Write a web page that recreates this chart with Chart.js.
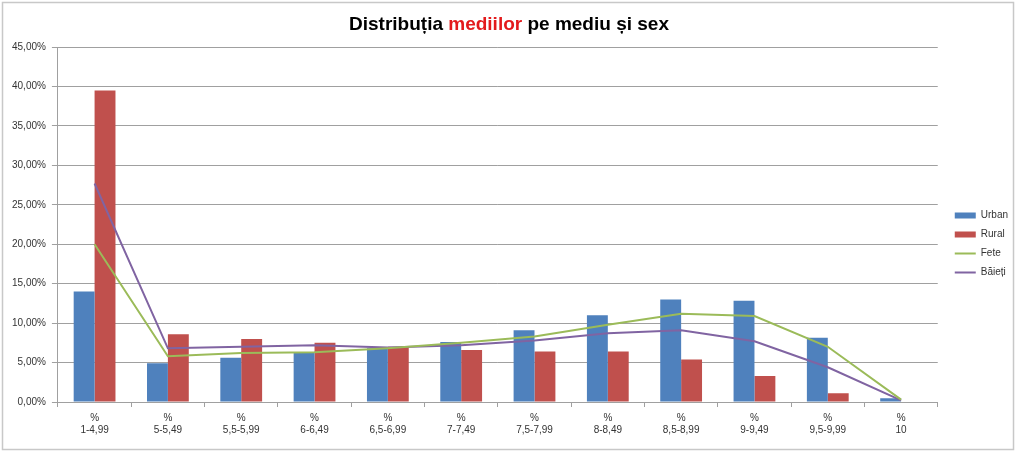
<!DOCTYPE html>
<html>
<head>
<meta charset="utf-8">
<script src="https://cdn.jsdelivr.net/npm/chart.js@4.4.0/dist/chart.umd.min.js"></script>
<style>
    body { margin: 0; background: #fff; }
    #wrap { position: relative; width: 1024px; height: 456px; }
</style>
</head>
<body>
<div id="wrap"><canvas id="chart" width="1024" height="456"></canvas></div>
<script>
const categories = [
    ['%', '1-4,99'], ['%', '5-5,49'], ['%', '5,5-5,99'], ['%', '6-6,49'],
    ['%', '6,5-6,99'], ['%', '7-7,49'], ['%', '7,5-7,99'], ['%', '8-8,49'],
    ['%', '8,5-8,99'], ['%', '9-9,49'], ['%', '9,5-9,99'], ['%', '10']
];
const urban  = [14.0, 4.9, 5.6, 6.3, 6.8, 7.6, 9.1, 11.0, 13.0, 12.85, 8.15, 0.47];
const rural  = [39.5, 8.6, 8.0, 7.5, 7.0, 6.6, 6.4, 6.4, 5.4, 3.3, 1.1, 0.0];
const fete   = [20.0, 5.8, 6.2, 6.3, 6.8, 7.5, 8.3, 9.8, 11.2, 10.9, 7.0, 0.3];
const baieti = [27.7, 6.8, 7.0, 7.2, 6.9, 7.2, 7.8, 8.7, 9.1, 7.7, 4.4, 0.2];
const yMax = 45;
const yStep = 5;

const gridColor = '#a0a0a0';
const tickFont = { family: 'Liberation Sans, Arial, sans-serif', size: 10 };

// titlul are un cuvant rosu, asa ca il desenam pe bucati
const titleParts = [
    { text: 'Distribuția ', color: '#000000' },
    { text: 'mediilor', color: '#e31a1c' },
    { text: ' pe mediu și sex', color: '#000000' }
];

const titlePlugin = {
    id: 'titleAndFrame',
    beforeDraw(chart) {
        const ctx = chart.ctx;
        ctx.save();
        ctx.strokeStyle = '#c8c8c8';
        ctx.lineWidth = 1.5;
        ctx.strokeRect(2.5, 2.5, 1011, 447);
        ctx.restore();
    },
    afterDraw(chart) {
        const ctx = chart.ctx;
        ctx.save();
        ctx.font = 'bold 19px Liberation Sans, Arial, sans-serif';
        ctx.textBaseline = 'alphabetic';
        const total = titleParts.reduce((w, p) => w + ctx.measureText(p.text).width, 0);
        let x = 509 - total / 2;
        titleParts.forEach(p => {
            ctx.fillStyle = p.color;
            ctx.fillText(p.text, x, 30);
            x += ctx.measureText(p.text).width;
        });
        ctx.restore();
    }
};

// mutam legenda putin spre dreapta, ca in original
const legendShift = {
    id: 'legendShift',
    afterLayout(chart) {
        chart.legend.left += 8;
        chart.legend.right += 8;
    }
};

const ctx = document.getElementById('chart').getContext('2d');
new Chart(ctx, {
    type: 'bar',
    data: {
        labels: categories,
        datasets: [
            { label: 'Urban', data: urban, backgroundColor: '#4f81bd', order: 2 },
            { label: 'Rural', data: rural, backgroundColor: '#c0504d', order: 2 },
            { type: 'line', label: 'Fete', data: fete, borderColor: '#9bbb59', backgroundColor: '#9bbb59',
              borderWidth: 2, pointRadius: 0, tension: 0, order: 1 },
            { type: 'line', label: 'Băieți', data: baieti, borderColor: '#8064a2', backgroundColor: '#8064a2',
              borderWidth: 2, pointRadius: 0, tension: 0, order: 1 }
        ]
    },
    options: {
        responsive: false,
        animation: false,
        categoryPercentage: 0.57,
        barPercentage: 1.0,
        layout: { padding: { top: 47, left: 6, right: 14, bottom: 15 } },
        plugins: {
            title: { display: false },
            tooltip: { enabled: false },
            legend: {
                position: 'right',
                labels: {
                    font: tickFont,
                    color: '#333333',
                    usePointStyle: true,
                    pointStyleWidth: 21,
                    boxHeight: 6,
                    padding: 9,
                    generateLabels: chart => Chart.defaults.plugins.legend.labels.generateLabels(chart)
                        .map(item => {
                            item.pointStyle = chart.data.datasets[item.datasetIndex].type === 'line' ? 'line' : 'rect';
                            return item;
                        }),
                    sort: (a, b) => a.datasetIndex - b.datasetIndex
                }
            }
        },
        scales: {
            x: {
                grid: { display: true, drawOnChartArea: false, drawTicks: true, tickLength: 5, color: gridColor },
                border: { display: true, color: gridColor },
                ticks: { font: tickFont, color: '#333333', padding: 5, maxRotation: 0, autoSkip: false }
            },
            y: {
                min: 0,
                max: yMax,
                grid: { color: gridColor, tickLength: 6 },
                border: { display: true, color: gridColor },
                ticks: {
                    stepSize: yStep,
                    font: tickFont,
                    color: '#333333',
                    padding: 6,
                    callback: v => v.toFixed(2).replace('.', ',') + '%'
                }
            }
        }
    },
    plugins: [titlePlugin, legendShift]
});
</script>
</body>
</html>
